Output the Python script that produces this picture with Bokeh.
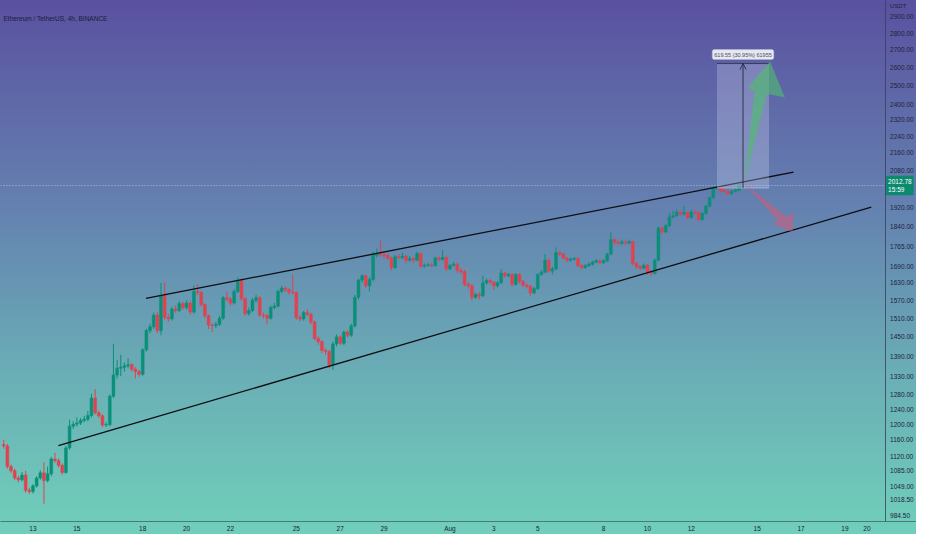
from bokeh.plotting import figure
from bokeh.models import (FixedTicker, NumeralTickFormatter, Label, Arrow,
                          OpenHead, Range1d, ColumnDataSource)
from bokeh.embed import file_html
from bokeh.resources import INLINE

# ---------------- data ----------------
title_text = "Ethereum / TetherUS, 4h, BINANCE"
axis_unit = "USDT"
first_time = 11 + 16 / 24      # July 11, 16:00 (day-of-July units)
step = 1 / 6                   # 4h candles
first_open = 1148

closes = [
    1145, 1095, 1085, 1068, 1064, 1075, 1040, 1037, 1050, 1068,
    1080, 1062, 1078, 1113, 1109, 1098, 1081, 1140, 1195, 1200,
    1203, 1210, 1213, 1223, 1270, 1230, 1222, 1198, 1199, 1275,
    1335, 1355, 1358, 1362, 1365, 1352, 1345, 1337, 1410, 1470,
    1482, 1520, 1470, 1587, 1513, 1508, 1540, 1535, 1558, 1545,
    1560, 1530, 1600, 1596, 1555, 1518, 1488, 1486, 1490, 1510,
    1578, 1573, 1560, 1600, 1640, 1575, 1525, 1535, 1570, 1578,
    1520, 1518, 1510, 1545, 1550, 1600, 1612, 1606, 1598, 1596,
    1512, 1508, 1528, 1523, 1497, 1445, 1435, 1408, 1405, 1365,
    1428, 1450, 1430, 1465, 1455, 1485, 1580, 1640, 1655, 1620,
    1642, 1730, 1735, 1732, 1730, 1720, 1685, 1725, 1722, 1727,
    1712, 1718, 1712, 1737, 1690, 1693, 1695, 1692, 1720, 1715,
    1722, 1680, 1693, 1697, 1675, 1670, 1625, 1620, 1580, 1590,
    1585, 1630, 1638, 1632, 1620, 1630, 1665, 1655, 1660, 1625,
    1660, 1635, 1622, 1618, 1595, 1610, 1660, 1668, 1712, 1672,
    1680, 1740, 1735, 1720, 1712, 1716, 1718, 1692, 1685, 1692,
    1697, 1705, 1710, 1703, 1710, 1735, 1790, 1780, 1776, 1781,
    1777, 1782, 1700, 1688, 1683, 1693, 1668, 1664, 1712, 1835,
    1820, 1845, 1880, 1885, 1900, 1892, 1898, 1878, 1900, 1897,
    1870, 1895, 1925, 1960, 2000, 2005, 1990, 1987, 1978, 1987,
    1992, 2012.78,
]
highs = [
    1160, 1150, 1100, 1090, 1073, 1082, 1085, 1046, 1054, 1072,
    1086, 1105, 1095, 1118, 1128, 1114, 1102, 1145, 1212, 1208,
    1218, 1216, 1222, 1235, 1282, 1295, 1236, 1226, 1206, 1280,
    1428, 1380, 1395, 1372, 1385, 1370, 1358, 1350, 1415, 1476,
    1492, 1528, 1530, 1630, 1632, 1525, 1548, 1552, 1566, 1565,
    1570, 1566, 1622, 1625, 1602, 1560, 1522, 1495, 1498, 1518,
    1585, 1600, 1580, 1608, 1650, 1645, 1580, 1545, 1578, 1588,
    1584, 1528, 1524, 1552, 1560, 1606, 1620, 1618, 1612, 1660,
    1600, 1520, 1534, 1540, 1528, 1502, 1452, 1440, 1415, 1410,
    1435, 1458, 1455, 1470, 1472, 1492, 1588, 1645, 1662, 1660,
    1650, 1745, 1755, 1787, 1745, 1738, 1725, 1732, 1735, 1740,
    1732, 1728, 1724, 1745, 1742, 1700, 1702, 1700, 1726, 1728,
    1750, 1726, 1698, 1705, 1702, 1682, 1676, 1632, 1625, 1596,
    1598, 1655, 1646, 1644, 1636, 1636, 1680, 1670, 1666, 1665,
    1665, 1665, 1640, 1628, 1622, 1616, 1665, 1676, 1735, 1718,
    1688, 1760, 1748, 1740, 1725, 1722, 1724, 1722, 1698, 1698,
    1703, 1710, 1716, 1714, 1716, 1740, 1818, 1796, 1786, 1790,
    1788, 1790, 1786, 1706, 1694, 1700, 1698, 1675, 1718, 1842,
    1840, 1852, 1895, 1905, 1912, 1906, 1925, 1903, 1908, 1910,
    1902, 1900, 1930, 1966, 2010, 2015, 2012, 1996, 1994, 1993,
    2000, 2018,
]
lows = [
    1138, 1090, 1080, 1063, 1058, 1060, 1035, 1032, 1033, 1046,
    1064, 1010, 1058, 1072, 1104, 1093, 1076, 1078, 1136, 1188,
    1194, 1198, 1205, 1208, 1218, 1226, 1216, 1192, 1193, 1195,
    1270, 1325, 1332, 1345, 1355, 1345, 1325, 1330, 1333, 1405,
    1462, 1475, 1462, 1455, 1505, 1498, 1502, 1528, 1530, 1538,
    1538, 1522, 1525, 1588, 1548, 1510, 1475, 1465, 1478, 1484,
    1505, 1566, 1552, 1555, 1595, 1568, 1518, 1518, 1530, 1563,
    1514, 1508, 1490, 1505, 1540, 1545, 1594, 1598, 1590, 1590,
    1505, 1500, 1502, 1516, 1490, 1440, 1425, 1400, 1395, 1355,
    1350, 1420, 1424, 1425, 1448, 1450, 1480, 1572, 1630, 1612,
    1600, 1636, 1722, 1725, 1720, 1712, 1675, 1680, 1715, 1716,
    1700, 1706, 1702, 1708, 1684, 1684, 1688, 1686, 1688, 1708,
    1710, 1672, 1675, 1688, 1665, 1662, 1618, 1610, 1568, 1574,
    1572, 1580, 1624, 1625, 1605, 1614, 1626, 1648, 1650, 1618,
    1620, 1628, 1615, 1610, 1585, 1590, 1605, 1655, 1664, 1666,
    1660, 1676, 1728, 1714, 1705, 1706, 1710, 1686, 1678, 1680,
    1687, 1692, 1700, 1698, 1698, 1705, 1730, 1772, 1768, 1770,
    1770, 1772, 1694, 1680, 1675, 1678, 1658, 1655, 1660, 1708,
    1812, 1815, 1840, 1874, 1880, 1885, 1886, 1870, 1872, 1890,
    1862, 1866, 1890, 1920, 1955, 1994, 1984, 1980, 1972, 1972,
    1982, 1988,
]
opens = [first_open] + closes[:-1]
times = [first_time + i * step for i in range(len(closes))]

price_ticks = [2900, 2800, 2700, 2600, 2500, 2400, 2320, 2240, 2160, 2080,
               1920, 1840, 1765, 1690, 1630, 1570, 1510, 1450, 1390, 1330,
               1280, 1240, 1200, 1160, 1120, 1085, 1049, 1018.5, 984.5]
date_ticks = [13, 15, 18, 20, 22, 25, 27, 29, 32, 34, 36, 39, 41, 43, 46, 48, 50, 51]
date_labels = ["13", "15", "18", "20", "22", "25", "27", "29", "Aug", "3", "5",
               "8", "10", "12", "15", "17", "19", "20"]

upper_line_x = [18.15, 47.66]
upper_line_y = [1576, 2072]
lower_line_x = [14.16, 51.2]
lower_line_y = [1145.6, 1921]

range_left, range_right = 44.17, 46.54
range_bottom, range_top = 2001.8, 2621.35
range_text = "619.55 (30.95%) 61955"

green_arrow_x = [45.42, 46.45, 47.26, 46.59, 45.56, 45.87]
green_arrow_y = [2029, 2456, 2436, 2633, 2488, 2472]
red_arrow_x = [45.42, 47.35, 47.66, 47.62, 46.72, 46.95]
red_arrow_y = [2020, 1881, 1897, 1819, 1853, 1865]

last_price = closes[-1]
countdown = "15:59"

# view window: time (days of July) and price
x_start, x_end = 11.52, 53.26
price_scale_at = 51.83          # where the price scale begins
y_start, y_end = 972, 3005

# ---------------- styles ----------------
W, H = 916, 534
AXIS_H = 13
UP = "#0a8f78"
DOWN = "#e0424f"
FONT = "Liberation Sans"
TXT = "#1f2238"

p = figure(width=W, height=H, x_range=Range1d(x_start, x_end),
           y_range=Range1d(y_start, y_end), y_axis_type="log",
           y_axis_location="right", output_backend="svg",
           toolbar_location=None, min_border_left=0, min_border_top=0,
           min_border_right=0, min_border_bottom=AXIS_H,
           styles={"background": "linear-gradient(to bottom, #5a51a0 0%, #6480b0 38%, #6aaeb6 70%, #70cfba 100%)"})
p.background_fill_alpha = 0
p.border_fill_alpha = 0
p.outline_line_color = None
p.grid.visible = False

# axes
ya = p.yaxis[0]
ya.fixed_location = price_scale_at
ya.ticker = FixedTicker(ticks=price_ticks)
ya.formatter = NumeralTickFormatter(format="0.00")
ya.major_tick_line_color = None
ya.minor_tick_line_color = None
ya.major_tick_out = 0
ya.major_tick_in = 0
ya.minor_tick_out = 0
ya.minor_tick_in = 0
ya.major_label_text_font_size = "6.5px"
ya.major_label_text_font = FONT
ya.major_label_text_color = TXT
ya.major_label_standoff = 5
ya.axis_line_color = "#34405e"
ya.axis_line_alpha = 0.8

xa = p.xaxis[0]
xa.ticker = FixedTicker(ticks=date_ticks)
xa.major_label_overrides = {t: l for t, l in zip(date_ticks, date_labels)}
xa.major_tick_line_color = None
xa.minor_tick_line_color = None
xa.major_tick_out = 0
xa.major_tick_in = 0
xa.minor_tick_out = 0
xa.minor_tick_in = 0
xa.major_label_text_font_size = "6.5px"
xa.major_label_text_font = FONT
xa.major_label_text_color = TXT
xa.major_label_standoff = 3
xa.axis_line_color = "#34405e"
xa.axis_line_alpha = 0.6

# candles
colors = [UP if c >= o else DOWN for o, c in zip(opens, closes)]
src = ColumnDataSource(dict(t=times, o=opens, h=highs, l=lows, c=closes, col=colors))
p.segment(x0="t", y0="l", x1="t", y1="h", color="col", line_width=1, source=src)
p.vbar(x="t", width=0.13, top="o", bottom="c", fill_color="col", line_color="col",
       line_width=0.5, source=src)

# last-price line
p.segment(x0=[x_start], y0=[last_price], x1=[price_scale_at], y1=[last_price],
          line_color="#d6d9ea", line_alpha=0.7, line_dash="1 2", line_width=1)

# trend lines
p.line(upper_line_x, upper_line_y, line_color="#0d0d12", line_width=1.3)
p.line(lower_line_x, lower_line_y, line_color="#0d0d12", line_width=1.3)

# price range measure
p.quad(left=[range_left], right=[range_right], bottom=[range_bottom], top=[range_top],
       fill_color="#d8dcf5", fill_alpha=0.28, line_color=None)
p.segment(x0=[range_left], y0=[range_top], x1=[range_right], y1=[range_top],
          line_color="#2b2f44", line_width=0.8)
p.segment(x0=[range_left], y0=[range_bottom], x1=[range_right], y1=[range_bottom],
          line_color="#c7cbe6", line_width=0.8, line_alpha=0.7)
mid = (range_left + range_right) / 2
p.add_layout(Arrow(end=OpenHead(size=6, line_color="#1c1f30", line_width=0.8),
                   x_start=mid, y_start=range_bottom, x_end=mid, y_end=range_top,
                   line_color="#1c1f30", line_width=0.8))
p.add_layout(Label(x=mid, y=range_top, y_offset=9, text=range_text,
                   text_align="center", text_baseline="middle",
                   text_font=FONT, text_font_size="5.5px", text_color="#4b4e60",
                   background_fill_color="#eceef6", background_fill_alpha=0.95,
                   border_line_color="#b9bccb", border_line_width=0.5,
                   padding=2, border_radius=2))

# arrows
p.patch(green_arrow_x, green_arrow_y, fill_color="#4cbf6a", fill_alpha=0.6, line_color=None)
p.patch(red_arrow_x, red_arrow_y, fill_color="#f0506a", fill_alpha=0.45, line_color=None)

# texts
p.add_layout(Label(x=x_start, y=y_end, x_offset=3, y_offset=-18, text=title_text,
                   text_baseline="middle", text_font=FONT, text_font_size="6.5px",
                   text_color="#1a1c3a"))
p.add_layout(Label(x=price_scale_at, y=y_end, x_offset=5, y_offset=-5,
                   text=axis_unit, text_baseline="middle", text_font=FONT,
                   text_font_size="6px", text_color=TXT))
p.add_layout(Label(x=price_scale_at, y=last_price, x_offset=1,
                   text=f"{last_price:.2f}\n{countdown}",
                   text_baseline="middle", text_align="left", text_font=FONT,
                   text_font_size="6.5px", text_color="white",
                   background_fill_color="#0b8a6f", padding=2))

open("out.html", "w").write(file_html(p, INLINE))
